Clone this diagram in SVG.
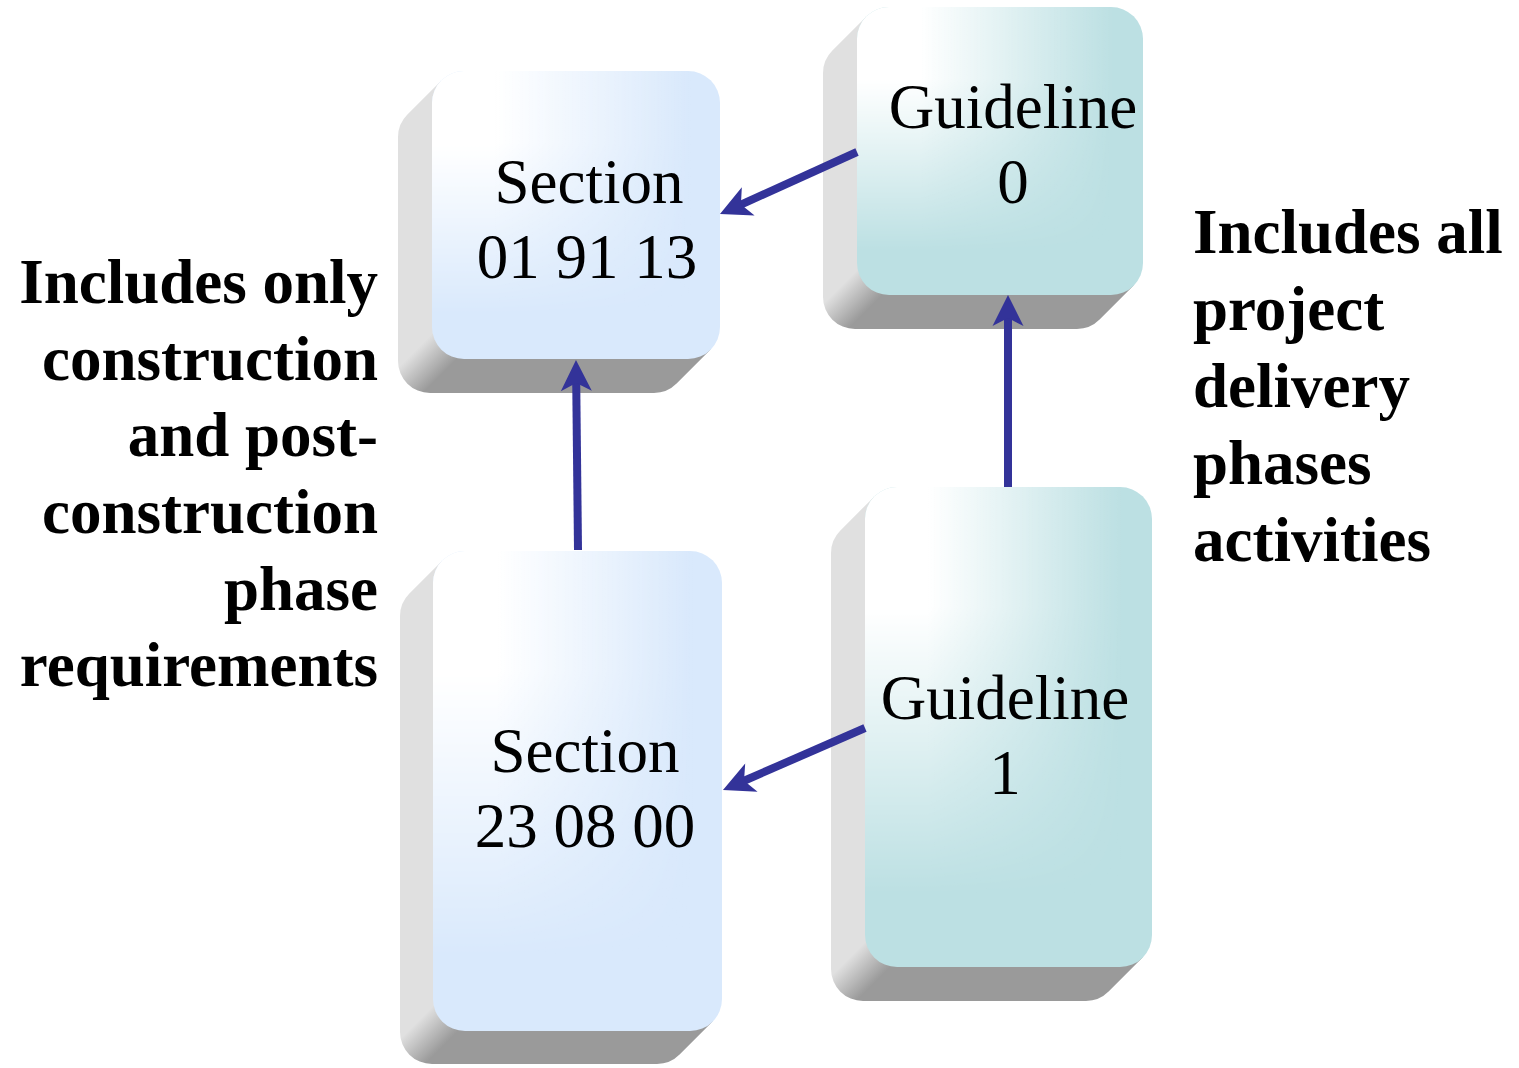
<svg xmlns="http://www.w3.org/2000/svg" width="1519" height="1068" viewBox="0 0 1519 1068">
<style>
.node-text{font-family:"Liberation Serif","Times New Roman",serif;font-size:63px;fill:#000;text-anchor:middle}
.label{font-family:"Liberation Serif","Times New Roman",serif;font-size:63px;font-weight:bold;fill:#000}
.conn{stroke:#333399;stroke-width:8;fill:none;marker-end:url(#arrow)}
</style>
<defs>
<linearGradient id="hfade" x1="0" y1="0" x2="1" y2="0">
<stop offset="0" stop-color="#fff" stop-opacity="1"/>
<stop offset="0.22" stop-color="#fff" stop-opacity="1"/>
<stop offset="0.9" stop-color="#fff" stop-opacity="0"/>
</linearGradient>
<linearGradient id="vgrad" x1="0" y1="0" x2="0" y2="1">
<stop offset="0" stop-color="#fff"/>
<stop offset="0.25" stop-color="#fff"/>
<stop offset="0.85" stop-color="#000"/>
</linearGradient>
<mask id="vfade" maskContentUnits="objectBoundingBox">
<rect x="0" y="0" width="1" height="1" fill="url(#vgrad)"/>
</mask>
<linearGradient id="ext1" gradientUnits="userSpaceOnUse" x1="383" y1="383" x2="408" y2="408">
<stop offset="0" stop-color="#e0e0e0"/><stop offset="1" stop-color="#9a9a9a"/>
</linearGradient>
<linearGradient id="ext2" gradientUnits="userSpaceOnUse" x1="563.5" y1="563.5" x2="588.5" y2="588.5">
<stop offset="0" stop-color="#e0e0e0"/><stop offset="1" stop-color="#9a9a9a"/>
</linearGradient>
<linearGradient id="ext3" gradientUnits="userSpaceOnUse" x1="719.5" y1="719.5" x2="744.5" y2="744.5">
<stop offset="0" stop-color="#e0e0e0"/><stop offset="1" stop-color="#9a9a9a"/>
</linearGradient>
<linearGradient id="ext4" gradientUnits="userSpaceOnUse" x1="903.5" y1="903.5" x2="928.5" y2="928.5">
<stop offset="0" stop-color="#e0e0e0"/><stop offset="1" stop-color="#9a9a9a"/>
</linearGradient>
<marker id="arrow" markerUnits="userSpaceOnUse" viewBox="-32 -16 33 32" refX="-20" refY="0" markerWidth="33" markerHeight="32" orient="auto">
<path d="M0,0 L-31,-15.5 L-23,0 L-31,15.5 Z" fill="#333399"/>
</marker>
</defs>

<g id="node-section-019113">
<path fill="url(#ext1)" d="M441.4,80.4 L407.4,114.4 A32,32 0 0 0 398,137 L398,361 A32,32 0 0 0 430,393 L654,393 A32,32 0 0 0 676.6,383.6 L710.6,349.6 Z"/>
<rect x="432" y="71" width="288" height="288" rx="32" fill="#d9e9fc"/>
<rect x="432" y="71" width="288" height="288" rx="32" fill="url(#hfade)" mask="url(#vfade)"/>
<text class="node-text" x="589" y="203">Section</text>
<text class="node-text" x="587" y="278">01 91 13</text>
</g>

<g id="node-guideline-0">
<path fill="url(#ext2)" d="M866.4,16.4 L832.4,50.4 A32,32 0 0 0 823,73 L823,297 A32,32 0 0 0 855,329 L1077,329 A32,32 0 0 0 1099.6,319.6 L1133.6,285.6 Z"/>
<rect x="857" y="7" width="286" height="288" rx="32" fill="#bce0e3"/>
<rect x="857" y="7" width="286" height="288" rx="32" fill="url(#hfade)" mask="url(#vfade)"/>
<text class="node-text" x="1013" y="128">Guideline</text>
<text class="node-text" x="1013" y="203">0</text>
</g>

<g id="node-section-230800">
<path fill="url(#ext3)" d="M442.4,560.4 L409.4,593.4 A32,32 0 0 0 400,616 L400,1032 A32,32 0 0 0 432,1064 L657,1064 A32,32 0 0 0 679.6,1054.6 L712.6,1021.6 Z"/>
<rect x="433" y="551" width="289" height="480" rx="32" fill="#d9e9fc"/>
<rect x="433" y="551" width="289" height="480" rx="32" fill="url(#hfade)" mask="url(#vfade)"/>
<text class="node-text" x="585" y="772">Section</text>
<text class="node-text" x="585" y="847">23 08 00</text>
</g>

<g id="node-guideline-1">
<path fill="url(#ext4)" d="M874.4,496.4 L840.4,530.4 A32,32 0 0 0 831,553 L831,969 A32,32 0 0 0 863,1001 L1086,1001 A32,32 0 0 0 1108.6,991.6 L1142.6,957.6 Z"/>
<rect x="865" y="487" width="287" height="480" rx="32" fill="#bce0e3"/>
<rect x="865" y="487" width="287" height="480" rx="32" fill="url(#hfade)" mask="url(#vfade)"/>
<text class="node-text" x="1005" y="719">Guideline</text>
<text class="node-text" x="1005" y="794">1</text>
</g>

<g id="connectors">
<line class="conn" x1="857" y1="152" x2="738.2" y2="205.8"/>
<line class="conn" x1="865" y1="728" x2="741.3" y2="782"/>
<line class="conn" x1="578" y1="550" x2="576.2" y2="380"/>
<line class="conn" x1="1008" y1="487" x2="1008" y2="315"/>
</g>

<g id="label-left" class="label" text-anchor="end">
<text x="378" y="303">Includes only</text>
<text x="378" y="380">construction</text>
<text x="378" y="456">and post-</text>
<text x="378" y="533">construction</text>
<text x="378" y="610">phase</text>
<text x="378" y="686">requirements</text>
</g>

<g id="label-right" class="label">
<text x="1193" y="253">Includes all</text>
<text x="1193" y="330">project</text>
<text x="1193" y="407">delivery</text>
<text x="1193" y="484">phases</text>
<text x="1193" y="561">activities</text>
</g>
</svg>
